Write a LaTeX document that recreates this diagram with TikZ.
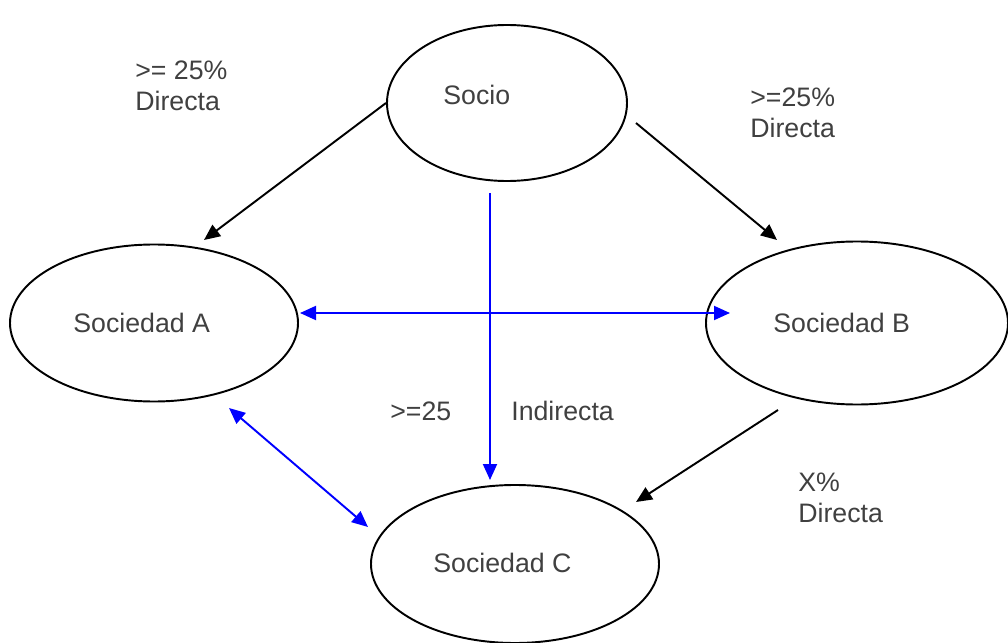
\documentclass[tikz,border=0pt]{standalone}
\usepackage{fontspec}
\setmainfont{Liberation Sans}
\usetikzlibrary{shapes.geometric,arrows.meta}
\definecolor{texto}{HTML}{404040}

\begin{document}
\begin{tikzpicture}[x=0.2mm,y=-0.2mm,
        socie/.style={ellipse,draw,line width=1.1pt,inner sep=0pt},
        etiq/.style={anchor=base west,inner sep=0pt,text=texto,
            font=\fontsize{15.2}{17.5}\selectfont,align=left},
        flecha/.style={line width=1.1pt,-{Triangle[length=3.2mm,width=2.8mm]}},
        azul/.style={flecha,blue},
        doble/.style={line width=1.1pt,blue,
            {Triangle[length=3.2mm,width=2.8mm]}-{Triangle[length=3.2mm,width=2.8mm]}}]
        \useasboundingbox (0,0) rectangle (1008,643);

        % 椭圆(只画边框,文字另放)
        \node [socie,minimum width=48mm,minimum height=31.2mm]
            (socio) at (507,103) {};
        \node [socie,minimum width=57.6mm,minimum height=31.4mm]
            (socA) at (154,323) {};
        \node [socie,minimum width=60.4mm,minimum height=32.6mm]
            (socB) at (857,323) {};
        \node [socie,minimum width=57.6mm,minimum height=31.6mm]
            (socC) at (515,564) {};

        % 椭圆里的文字
        \node [etiq] (tSocio) at (443,105) {Socio};
        \node [etiq] (tA) at (73,332) {Sociedad A};
        \node [etiq] (tB) at (773,332) {Sociedad B};
        \node [etiq] (tC) at (433,572) {Sociedad C};

        % 百分比标注(基线取最后一行)
        \node [etiq] (pSA) at (135,110) {>= 25\%\\Directa};
        \node [etiq] (pSB) at (750,137) {>=25\%\\Directa};
        \node [etiq] (pBC) at (798,522) {X\%\\Directa};
        \node [etiq] (pInd) at (390,420) {>=25};
        \node [etiq] (tInd) at (511,420) {Indirecta};

        % 箭头端点
        \coordinate (s1) at (386,103);
        \coordinate (a1) at (204,240);
        \coordinate (s2) at (636,123);
        \coordinate (b1) at (777,240);
        \coordinate (b2) at (778,410);
        \coordinate (c1) at (636,502);
        \coordinate (a2) at (300,313);
        \coordinate (b3) at (730,313);
        \coordinate (s3) at (490,193);
        \coordinate (c2) at (490,480);
        \coordinate (a3) at (229,408);
        \coordinate (c3) at (368,527);

        \draw [flecha] (s1) -- (a1);
        \draw [flecha] (s2) -- (b1);
        \draw [flecha] (b2) -- (c1);
        \draw [doble] (a2) -- (b3);
        \draw [azul] (s3) -- (c2);
        \draw [doble] (a3) -- (c3);
    \end{tikzpicture}
\end{document}
